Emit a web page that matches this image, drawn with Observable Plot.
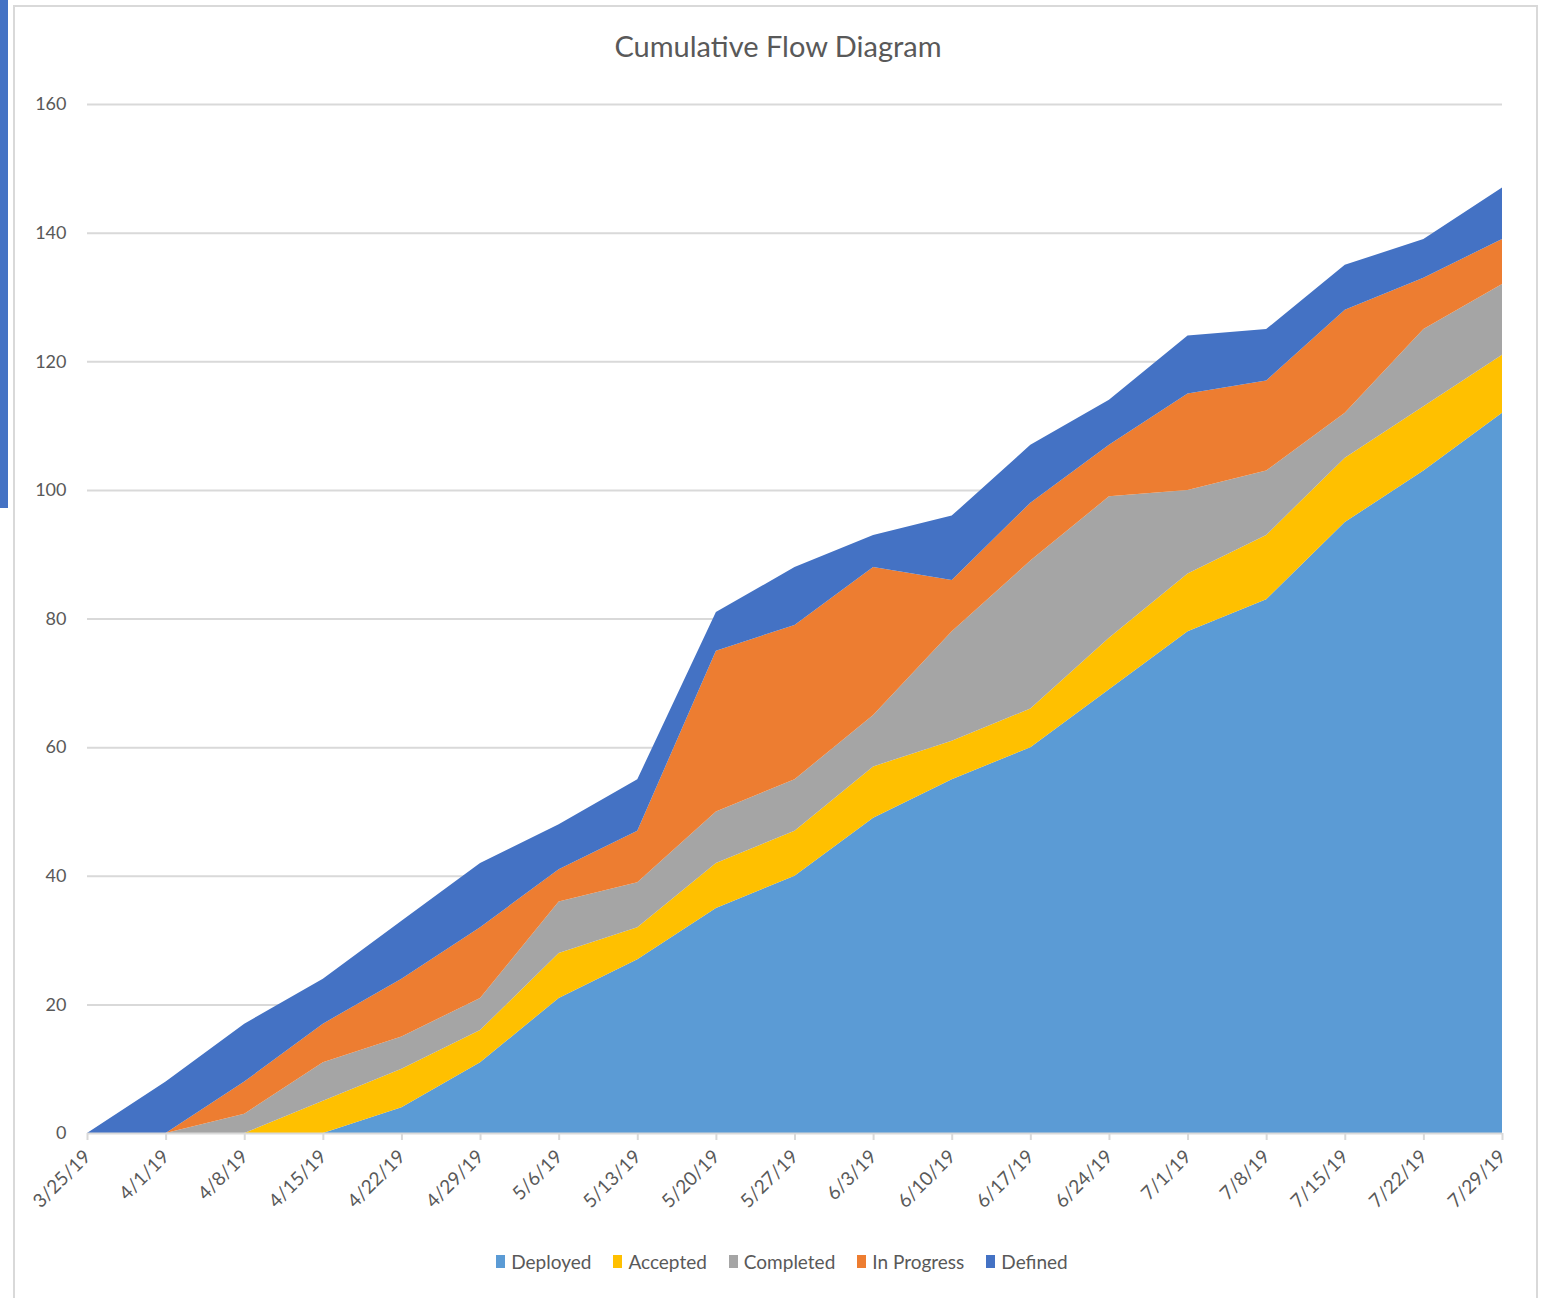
<!DOCTYPE html>
<html>
<head>
<meta charset="utf-8">
<script src="https://cdn.jsdelivr.net/npm/d3@7"></script>
<script src="https://cdn.jsdelivr.net/npm/@observablehq/plot@0.6"></script>
<style>
  html, body { margin: 0; padding: 0; background: #fff; }
  body { width: 1548px; height: 1298px; position: relative; overflow: hidden; font-family: Lato, "Open Sans", sans-serif; }
  #sidebar { position: absolute; left: 0; top: 0; width: 8px; height: 508px; background: #4472c4; }
  #frame { position: absolute; left: 13px; top: 5px; width: 1525px; height: 1310px; border: 2px solid #d9d9d9; box-sizing: border-box; }
  #title { position: absolute; left: 0; top: 28px; width: 1556px; text-align: center; font-size: 29px; color: #595959; }
  #chart { position: absolute; left: 0; top: 80px; }
  #legend { position: absolute; left: 0; top: 1250px; width: 1564px; display: flex; justify-content: center; gap: 22px; font-size: 19px; color: #595959; }
  .item { display: flex; align-items: center; gap: 6px; }
  .sw { width: 9px; height: 13px; display: inline-block; }
</style>
</head>
<body>
<div id="sidebar"></div>
<div id="frame"></div>
<div id="title">Cumulative Flow Diagram</div>
<div id="chart"></div>
<div id="legend"></div>
<script>
const dates = ["2019-03-25","2019-04-01","2019-04-08","2019-04-15","2019-04-22","2019-04-29","2019-05-06","2019-05-13","2019-05-20","2019-05-27","2019-06-03","2019-06-10","2019-06-17","2019-06-24","2019-07-01","2019-07-08","2019-07-15","2019-07-22","2019-07-29"];
const seriesNames = ["Deployed", "Accepted", "Completed", "In Progress", "Defined"];
const seriesColors = ["#5b9bd5", "#ffc000", "#a5a5a5", "#ed7d31", "#4472c4"];
const deployed   = [0,0,0,0,4,11,21,27,35,40,49,55,60,69,78,83,95,103,112];
const accepted   = [0,0,0,5,6,5,7,5,7,7,8,6,6,8,9,10,10,10,9];
const completed  = [0,0,3,6,5,5,8,7,8,8,8,17,23,22,13,10,7,12,11];
const inProgress = [0,0,5,6,9,11,5,8,25,24,23,8,9,8,15,14,16,8,7];
const defined    = [0,8,9,7,9,10,7,8,6,9,5,10,9,7,9,8,7,6,8];
const yTicks = [0,20,40,60,80,100,120,140,160];

const values = [deployed, accepted, completed, inProgress, defined];
const dateObjs = dates.map(d => new Date(d + "T00:00:00Z"));
const rows = [];
seriesNames.forEach((s, i) => {
  dateObjs.forEach((d, j) => rows.push({date: d, series: s, value: values[i][j]}));
});

const fmt = d3.utcFormat("%-m/%-d/%y");

const chart = Plot.plot({
  width: 1548,
  height: 1153,
  marginLeft: 87,
  marginRight: 46,
  marginTop: 24,
  marginBottom: 100,
  style: {fontFamily: "Lato, 'Open Sans', sans-serif", color: "#595959", background: "transparent"},
  x: {type: "utc", domain: [dateObjs[0], dateObjs[dateObjs.length - 1]], label: null},
  y: {domain: [0, 160], label: null},
  color: {domain: seriesNames, range: seriesColors},
  marks: [
    Plot.gridY(yTicks.slice(1), {stroke: "#d9d9d9", strokeOpacity: 1, strokeWidth: 2}),
    Plot.areaY(rows, {x: "date", y: "value", z: "series", fill: "series", order: seriesNames, fillOpacity: 1}),
    Plot.ruleY([0], {stroke: "#d9d9d9", strokeWidth: 2}),
    Plot.axisX({ticks: dateObjs, tickFormat: fmt, tickRotate: -45, tickSize: 7, tickPadding: 13,
      stroke: "#d9d9d9", strokeWidth: 2, fill: "#595959", fontSize: 19, label: null}),
    Plot.axisY({ticks: yTicks, tickSize: 0, tickPadding: 21, fill: "#595959", fontSize: 18, label: null})
  ]
});
document.getElementById("chart").appendChild(chart);

const legend = document.getElementById("legend");
seriesNames.forEach((s, i) => {
  const it = document.createElement("div");
  it.className = "item";
  const sw = document.createElement("span");
  sw.className = "sw";
  sw.style.background = seriesColors[i];
  const t = document.createElement("span");
  t.textContent = s;
  it.appendChild(sw);
  it.appendChild(t);
  legend.appendChild(it);
});
</script>
</body>
</html>
